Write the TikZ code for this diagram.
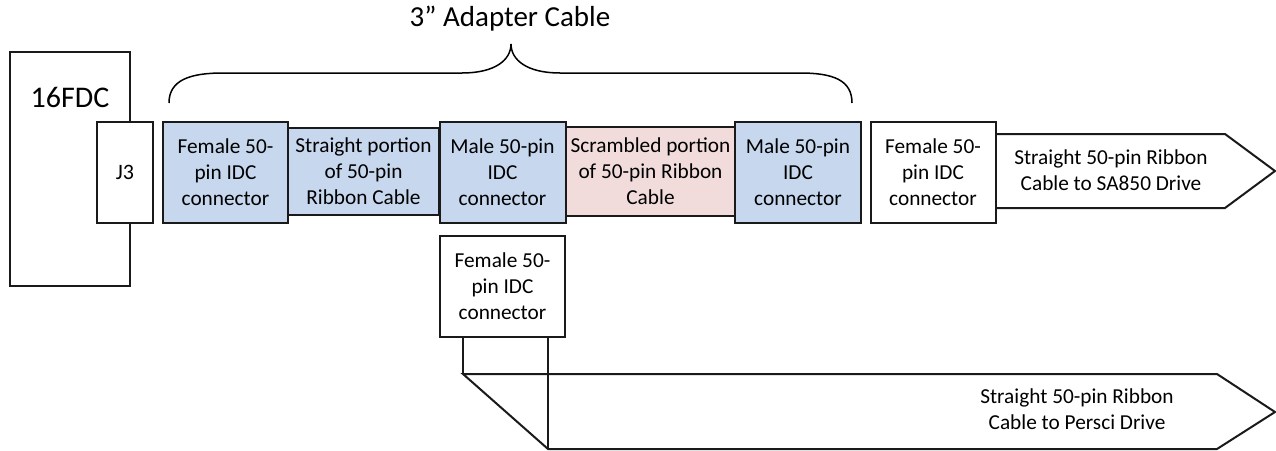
\documentclass[tikz,border=0pt]{standalone}
\usepackage{fontspec}
\setmainfont{Carlito}
\definecolor{cblue}{HTML}{C6D7EE}
\definecolor{cpink}{HTML}{F1DCDB}
\definecolor{cline}{HTML}{1A1A1A}
\begin{document}
\begin{tikzpicture}[x=1pt,y=-1pt,
  box/.style={draw=cline, line width=2pt, inner sep=0pt, align=center, fill=white,
    font=\fontsize{21.3}{26}\selectfont},
  conn/.style={box, minimum width=125pt, minimum height=101pt},
  bluebox/.style={conn, fill=cblue},
  cable/.style={box, minimum height=87pt},
  outline/.style={draw=cline, line width=2pt, line join=miter},
  lbl/.style={align=center, inner sep=0pt, font=\fontsize{21.3}{26}\selectfont}]
\useasboundingbox (0,0) rectangle (1276,450);
% title and brace
\node[font=\fontsize{29}{34}\selectfont, inner sep=0pt] (title) at (510,19) {3” Adapter Cable};
\draw[line width=1.5pt] (169,103) .. controls (169,80) and (190,73) .. (223,73) -- (462,73)
  .. controls (495,73) and (511,60) .. (511,44)
  .. controls (511,60) and (527,73) .. (560,73) -- (800,73)
  .. controls (833,73) and (852,80) .. (852,103);
% 16FDC board
\node[box, minimum width=120pt, minimum height=234pt] (fdc) at (70,169) {};
\node[font=\fontsize{30}{36}\selectfont, inner sep=0pt] (fdclbl) at (70,97) {16FDC};
\node[box, minimum width=56pt, minimum height=101pt, font=\fontsize{22}{26}\selectfont] (j3) at (125,172.5) {J3};
% cables
\node[cable, fill=cblue, minimum width=151pt] (s1) at (363.5,171.5) {Straight portion\\of 50-pin\\Ribbon Cable};
\node[cable, fill=cpink, minimum width=169pt, minimum height=89pt] (sc) at (650.5,171.5) {Scrambled portion\\of 50-pin Ribbon\\Cable};
% connectors
\node[bluebox] (f1) at (225.5,172.5) {Female 50-\\pin IDC\\connector};
\node[bluebox, minimum width=126pt] (m1) at (502.5,172.5) {Male 50-pin\\IDC\\connector};
\node[bluebox, minimum width=126pt] (m2) at (798,172.5) {Male 50-pin\\IDC\\connector};
\node[conn] (f2) at (933,172.5) {Female 50-\\pin IDC\\connector};
\node[conn] (f3) at (502.5,286) {Female 50-\\pin IDC\\connector};
% SA850 cable arrow
\draw[outline] (f2.north east |- 0,134) -- (1225,134) -- (1275,171) -- (1225,208) -- (f2.north east |- 0,208);
\node[lbl] (sa) at (1111,170) {Straight 50-pin Ribbon\\Cable to SA850 Drive};
% Persci cable
\coordinate (pa) at (463,337);
\coordinate (pb) at (548,337);
\coordinate (pc) at (463,374);
\coordinate (pd) at (548,449);
\draw[outline] (pc) -- (1217,374) -- (1275,412) -- (1217,449) -- (pd) -- cycle;
\draw[outline] (pa) -- (pc);
\draw[outline] (pb) -- (pd);
\node[lbl] (ps) at (1077,409) {Straight 50-pin Ribbon\\Cable to Persci Drive};
\end{tikzpicture}
\end{document}
